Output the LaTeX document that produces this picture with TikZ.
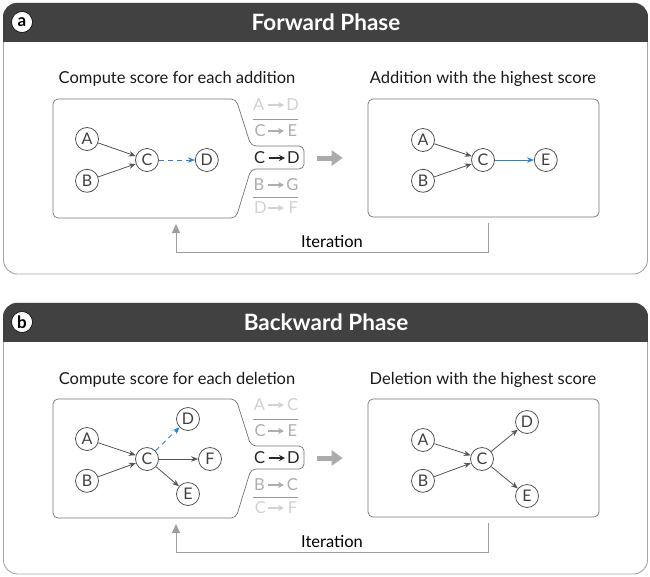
\documentclass[tikz,border=0pt]{standalone}
\usepackage{fontspec}
\setmainfont{Lato}
\usepackage{tikz}
\usetikzlibrary{arrows,arrows.meta,positioning,calc}

\definecolor{hdrgray}{HTML}{414141}
\definecolor{nodegray}{HTML}{555555}
\definecolor{newblue}{HTML}{2484DC}

\begin{document}
\begin{tikzpicture}[x=1pt, y=-1pt, >={Stealth[length=7pt,width=5.5pt]},
  state/.style={circle, draw=nodegray, fill=white, line width=0.8pt, minimum size=23pt, inner sep=0pt, text=black!75, font=\fontsize{16}{16}\selectfont},
  edge/.style={->, draw=nodegray, line width=0.8pt},
  newedge/.style={->, draw=newblue, line width=0.9pt},
  frame/.style={draw=black!35, line width=0.9pt},
  box/.style={draw=black!55, line width=0.7pt, rounded corners=5pt},
  tag/.style={circle, draw=black, fill=white, line width=0.6pt, minimum size=21pt, inner sep=0pt, font=\fontsize{17}{17}\bfseries\selectfont},
  title/.style={text=white, font=\fontsize{22.5}{24}\bfseries\selectfont},
  sub/.style={text=black!90, font=\fontsize{16.5}{18}\selectfont},
  cand/.style={inner sep=0pt, font=\fontsize{16.5}{18}\selectfont},
  candarr/.style={-{Stealth[length=6pt,width=6pt]}, line width=1.3pt},
  sep/.style={draw=black!40, line width=0.8pt},
  iter/.style={draw=black!38, line width=0.9pt, -{Triangle[length=9pt,width=8pt]}},
  bigarrow/.style={draw=black!33, line width=5pt, -{Triangle[length=11pt,width=15pt]}}]
\useasboundingbox (0,0) rectangle (650,576);

% common frame of both phases
\foreach \lab/\ttl/\dy in {a/Forward Phase/0, b/Backward Phase/300} {
  \begin{scope}[yshift=-\dy pt]
  \draw[frame, rounded corners=14pt] (3.5,3) rectangle (647.5,274);
  \begin{scope}
    \clip[rounded corners=14pt] (3,3) rectangle (648,274);
    \fill[hdrgray] (3,3) rectangle (648,42);
  \end{scope}
  \node[tag]   (tag\lab)   at (22,22)  {\lab};
  \node[title] (title\lab) at (326,22) {\ttl};
  % candidate box and chosen box
  \draw[box] (53,99) -- (236,99) -- (251,146) -- (304,146) -- (304,169)
    -- (251,169) -- (236,218) -- (53,218) -- cycle;
  \node[box, minimum width=231pt, minimum height=118pt] (rbox\lab) at (483.5,158) {};
  \draw[sep] (253,119) -- (298,119);
  \draw[sep] (253,197) -- (298,197);
  \coordinate (pick\lab) at (317,158);
  \draw[bigarrow] (pick\lab) -- ($(rbox\lab.west)+(-25,0)$);
  % iteration loop
  \coordinate (out\lab)  at (488,223);
  \coordinate (turn\lab) at (176,252);
  \coordinate (in\lab)   at (176,224);
  \draw[iter] (out\lab) |- node[pos=0.75, above=1pt, sub, text=black] {Iteration} (turn\lab) -- (in\lab);
  \end{scope}
}

% forward phase
\node[sub] (suba1) at (177,79) {Compute score for each addition};
\node[sub] (suba2) at (483,79) {Addition with the highest score};

\node[state] (A1) at (87,139)  {A};
\node[state] (B1) [below=18pt of A1] {B};
\node[state] (C1) at (147,160) {C};
\node[state] (D1) [right=36pt of C1] {D};
\path (A1) edge[edge] (C1)
      (B1) edge[edge] (C1)
      (C1) edge[newedge, dash pattern=on 5pt off 4pt] (D1);

\node[cand, text=black!18] (ca1) at (276,105) {A\hspace{22pt}D};
\node[cand, text=black!32] (ca2) at (276,131) {C\hspace{22pt}E};
\node[cand, text=black!85] (ca3) at (277,158) {C\hspace{22pt}D};
\node[cand, text=black!32] (ca4) at (276,185) {B\hspace{22pt}G};
\node[cand, text=black!18] (ca5) at (276,208) {D\hspace{22pt}F};

\node[state] (A2) at (423,140) {A};
\node[state] (B2) [below=17pt of A2] {B};
\node[state] (C2) at (483,160) {C};
\node[state] (E2) [right=39pt of C2] {E};
\path (A2) edge[edge] (C2)
      (B2) edge[edge] (C2)
      (C2) edge[newedge] (E2);

% backward phase
\node[sub] (subb1) at (177,380) {Compute score for each deletion};
\node[sub] (subb2) at (483,380) {Deletion with the highest score};

\node[state] (A3) at (87,439)  {A};
\node[state] (B3) [below=18pt of A3] {B};
\node[state] (C3) at (147,459) {C};
\node[state] (D3) at (188,419) {D};
\node[state] (F3) at (210,459) {F};
\node[state] (E3) at (188,494) {E};
\path (A3) edge[edge] (C3)
      (B3) edge[edge] (C3)
      (C3) edge[newedge, dash pattern=on 5pt off 4pt] (D3)
           edge[edge] (F3)
           edge[edge] (E3);

\node[cand, text=black!18] (cb1) at (276,405) {A\hspace{22pt}C};
\node[cand, text=black!32] (cb2) at (276,431) {C\hspace{22pt}E};
\node[cand, text=black!85] (cb3) at (277,458) {C\hspace{22pt}D};
\node[cand, text=black!32] (cb4) at (276,485) {B\hspace{22pt}C};
\node[cand, text=black!18] (cb5) at (276,508) {C\hspace{22pt}F};

\node[state] (A4) at (423,440) {A};
\node[state] (B4) [below=17pt of A4] {B};
\node[state] (C4) at (482,459) {C};
\node[state] (D4) at (527,422) {D};
\node[state] (E4) at (527,496) {E};
\path (A4) edge[edge] (C4)
      (B4) edge[edge] (C4)
      (C4) edge[edge] (D4)
           edge[edge] (E4);

% arrows inside the candidate labels
\foreach \n/\c in {ca1/black!18, ca2/black!32, ca3/black!85, ca4/black!32, ca5/black!18,
                   cb1/black!18, cb2/black!32, cb3/black!85, cb4/black!32, cb5/black!18}
  \draw[candarr, draw=\c, fill=\c] ([xshift=-8pt]\n.center) -- ([xshift=8pt]\n.center);

\end{tikzpicture}
\end{document}
